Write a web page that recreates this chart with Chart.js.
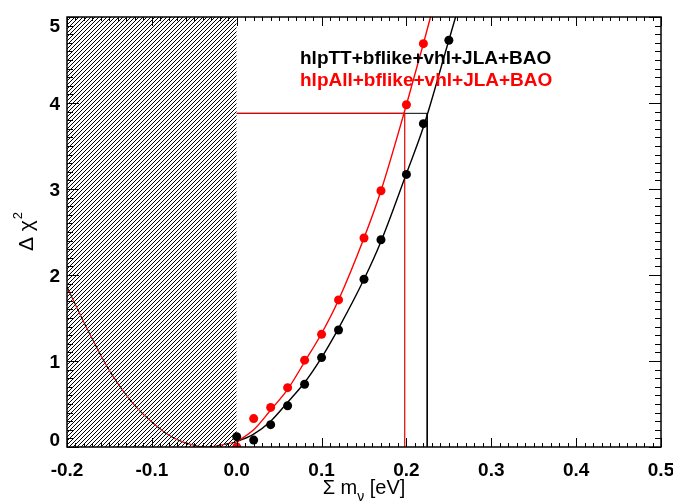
<!DOCTYPE html>
<html>
<head>
<meta charset="utf-8">
<script src="https://cdn.jsdelivr.net/npm/chart.js@4/dist/chart.umd.min.js"></script>
<style>
  html, body { margin: 0; padding: 0; background: #fff; }
  #wrap { width: 673px; height: 504px; }
</style>
</head>
<body>
<div id="wrap"><canvas id="chi2Chart" width="673" height="504"></canvas></div>
<script>
// grid points where delta chi2 was computed
const massTT = [0, 0.02, 0.04, 0.06, 0.08, 0.10, 0.12, 0.15, 0.17, 0.20, 0.22, 0.25];
const chi2TT = [0.12, 0.08, 0.26, 0.48, 0.73, 1.04, 1.36, 1.95, 2.41, 3.17, 3.76, 4.73];
const massAll = [0, 0.02, 0.04, 0.06, 0.08, 0.10, 0.12, 0.15, 0.17, 0.20, 0.22];
const chi2All = [0.0, 0.33, 0.46, 0.69, 1.01, 1.31, 1.71, 2.43, 2.98, 3.98, 4.69];

// fitted curves
const fitMassTT = [0, 0.02, 0.04, 0.06, 0.08, 0.10, 0.12, 0.15, 0.17, 0.20, 0.22, 0.25, 0.26];
const fitChi2TT = [0.06, 0.15, 0.30, 0.52, 0.75, 1.04, 1.38, 1.95, 2.39, 3.18, 3.72, 4.73, 5.07];
const fitMassAll = [0, 0.02, 0.04, 0.06, 0.08, 0.10, 0.12, 0.15, 0.17, 0.20, 0.22, 0.23];
const fitChi2All = [0.06, 0.20, 0.43, 0.67, 0.99, 1.32, 1.71, 2.43, 2.98, 3.98, 4.69, 5.06];

// extrapolation into the unphysical region (dashed)
const extMass = [-0.2, -0.175, -0.15, -0.125, -0.1, -0.075, -0.05, -0.035, -0.02, 0];
const extChi2 = [1.86, 1.35, 0.89, 0.54, 0.29, 0.11, 0.02, 0.0, 0.02, 0.06];

// 95% limits
const level95 = 3.88;
const limitTT = 0.2245;
const limitAll = 0.198;

// excluded region
const hatchMass = [-0.2, 0];
const hatchTop = [5, 5];

const xTicks = [-0.2, -0.1, 0.0, 0.1, 0.2, 0.3, 0.4, 0.5];
const xTickLabels = ["-0.2", "-0.1", "0.0", "0.1", "0.2", "0.3", "0.4", "0.5"];
const yTicks = [0, 1, 2, 3, 4, 5];
const yTickLabels = ["0", "1", "2", "3", "4", "5"];

const legendTT = "hlpTT+bflike+vhl+JLA+BAO";
const legendAll = "hlpAll+bflike+vhl+JLA+BAO";

const FONT = "'Liberation Sans', Arial, sans-serif";
const zip = (xs, ys) => xs.map((v, i) => ({ x: v, y: ys[i] }));

// hatch pattern
const tile = document.createElement("canvas");
tile.width = 4; tile.height = 4;
const tctx = tile.getContext("2d");
tctx.strokeStyle = "#000";
tctx.lineWidth = 1;
tctx.beginPath();
tctx.moveTo(-1, 5); tctx.lineTo(5, -1);
tctx.moveTo(-1, 1); tctx.lineTo(1, -1);
tctx.moveTo(3, 5); tctx.lineTo(5, 3);
tctx.stroke();
const hatch = tctx.createPattern(tile, "repeat");

const frame = {
    id: "frame",
    afterDatasetsDraw(chart) {
        const { ctx, chartArea: a, scales: { x, y } } = chart;
        ctx.save();
        ctx.strokeStyle = "#000";
        ctx.lineWidth = 1;
        const seg = (x1, y1, x2, y2) => { ctx.beginPath(); ctx.moveTo(x1, y1); ctx.lineTo(x2, y2); ctx.stroke(); };

        // x ticks every 0.01, major every 0.1
        for (let i = -20; i <= 50; i++) {
            const px = Math.round(x.getPixelForValue(i / 100)) + 0.5;
            const len = i % 10 === 0 ? 9 : 4;
            seg(px, a.bottom, px, a.bottom - len);
            seg(px, a.top, px, a.top + len);
        }
        // y ticks every 0.1, major every 1
        for (let i = 0; i <= 50; i++) {
            const py = Math.round(y.getPixelForValue(i / 10)) + 0.5;
            const len = i % 10 === 0 ? 12 : 6;
            seg(a.left, py, a.left + len, py);
            seg(a.right, py, a.right - len, py);
        }
        ctx.lineWidth = 1.5;
        ctx.strokeRect(a.left, a.top, a.right - a.left, a.bottom - a.top);

        // tick labels
        ctx.fillStyle = "#000";
        ctx.font = "bold 19px " + FONT;
        ctx.textAlign = "center";
        ctx.textBaseline = "alphabetic";
        xTicks.forEach((v, i) => ctx.fillText(xTickLabels[i], x.getPixelForValue(v), 476));
        ctx.textAlign = "right";
        yTicks.forEach((v, i) => {
            let cy = y.getPixelForValue(v);
            cy = Math.min(Math.max(cy, a.top + 8), a.bottom - 7.5);
            ctx.fillText(yTickLabels[i], a.left - 7, cy + 6.8);
        });

        // x title: Σ m_ν [eV]
        ctx.font = "20px " + FONT;
        ctx.textAlign = "left";
        const p1 = "\u03A3 m", p2 = "\u03BD", p3 = " [eV]";
        const w1 = ctx.measureText(p1).width, w3 = ctx.measureText(p3).width;
        ctx.font = "14px " + FONT;
        const w2 = ctx.measureText(p2).width;
        const cx = (a.left + a.right) / 2;
        const sx = cx - (w1 + w2 + w3) / 2;
        ctx.font = "20px " + FONT;
        ctx.fillText(p1, sx, 494);
        ctx.font = "14px " + FONT;
        ctx.fillText(p2, sx + w1, 501);
        ctx.font = "20px " + FONT;
        ctx.fillText(p3, sx + w1 + w2, 494);

        // y title: Δ χ²
        ctx.save();
        ctx.translate(32.5, (a.top + a.bottom) / 2);
        ctx.rotate(-Math.PI / 2);
        ctx.font = "21px " + FONT;
        const q1 = "\u0394 \u03C7";
        const wq1 = ctx.measureText(q1).width;
        ctx.font = "13px " + FONT;
        const wq2 = ctx.measureText("2").width;
        const sy = -(wq1 + wq2) / 2;
        ctx.font = "21px " + FONT;
        ctx.fillText(q1, sy, 0);
        ctx.font = "13px " + FONT;
        ctx.fillText("2", sy + wq1 + 1, -11);
        ctx.restore();

        // legend text
        ctx.font = "bold 19px " + FONT;
        ctx.textAlign = "left";
        ctx.fillStyle = "#000";
        ctx.fillText(legendTT, 300, 64);
        ctx.fillStyle = "#ff0000";
        ctx.fillText(legendAll, 300, 86);
        ctx.restore();
    }
};

new Chart(document.getElementById("chi2Chart").getContext("2d"), {
    type: "line",
    data: {
        datasets: [
            {
                label: "hlpAll points",
                data: zip(massAll, chi2All),
                showLine: false,
                pointRadius: 4.5,
                pointBackgroundColor: "#ff0000",
                pointBorderWidth: 0,
                order: 0,
            },
            {
                label: "hlpTT points",
                data: zip(massTT, chi2TT),
                showLine: false,
                pointRadius: 4.5,
                pointBackgroundColor: "#000",
                pointBorderWidth: 0,
                order: 1,
            },
            {
                label: "hlpAll fit",
                data: zip(fitMassAll, fitChi2All),
                borderColor: "#ff0000",
                borderWidth: 1.4,
                pointRadius: 0,
                cubicInterpolationMode: "monotone",
                order: 2,
            },
            {
                label: "hlpTT fit",
                data: zip(fitMassTT, fitChi2TT),
                borderColor: "#000",
                borderWidth: 1.4,
                pointRadius: 0,
                cubicInterpolationMode: "monotone",
                order: 3,
            },
            {
                label: "hlpAll extrapolation",
                data: zip(extMass, extChi2),
                borderColor: "#ff0000",
                borderWidth: 1.2,
                borderDash: [4, 4],
                borderDashOffset: 4,
                pointRadius: 0,
                cubicInterpolationMode: "monotone",
                order: 4,
            },
            {
                label: "hlpTT extrapolation",
                data: zip(extMass, extChi2),
                borderColor: "#000",
                borderWidth: 1.2,
                borderDash: [4, 4],
                pointRadius: 0,
                cubicInterpolationMode: "monotone",
                order: 5,
            },
            {
                label: "hlpAll limit",
                data: [{ x: 0, y: level95 }, { x: limitAll, y: level95 }, { x: limitAll, y: 0 }],
                borderColor: "#e00000",
                borderWidth: 1.2,
                pointRadius: 0,
                tension: 0,
                order: 6,
            },
            {
                label: "hlpTT limit",
                data: [{ x: 0, y: level95 }, { x: limitTT, y: level95 }, { x: limitTT, y: 0 }],
                borderColor: "#000",
                borderWidth: 1,
                pointRadius: 0,
                tension: 0,
                order: 7,
            },
            {
                label: "excluded",
                data: zip(hatchMass, hatchTop),
                borderWidth: 0,
                pointRadius: 0,
                backgroundColor: hatch,
                fill: "origin",
                order: 8,
            },
        ],
    },
    options: {
        responsive: false,
        animation: false,
        events: [],
        layout: { padding: { left: 67, right: 12, top: 17, bottom: 57 } },
        plugins: {
            legend: { display: false },
            tooltip: { enabled: false },
        },
        scales: {
            x: { type: "linear", min: -0.2, max: 0.5, display: false },
            y: { type: "linear", min: 0, max: 5, display: false },
        },
    },
    plugins: [frame],
});
</script>
</body>
</html>
